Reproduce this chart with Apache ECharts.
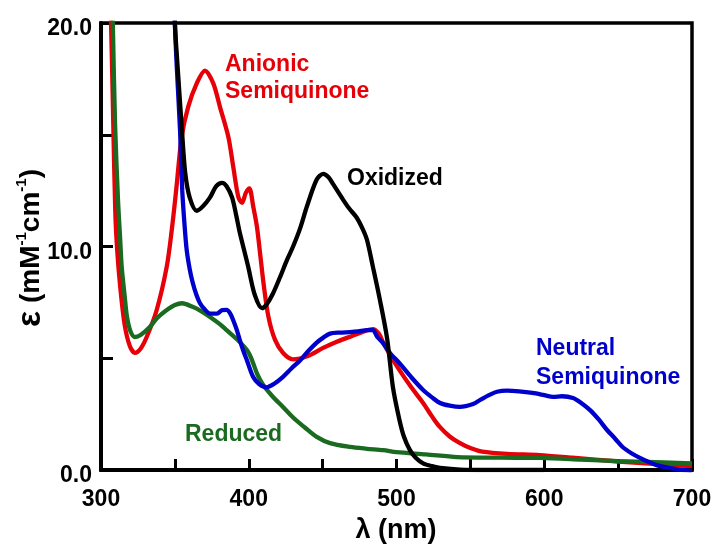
<!DOCTYPE html>
<html>
<head>
<meta charset="utf-8">
<script src="https://cdn.jsdelivr.net/npm/echarts@6/dist/echarts.min.js"></script>
<style>html,body{margin:0;padding:0;background:#fff}#c{width:715px;height:549px}</style>
</head>
<body>
<div id="c"></div>
<script>
// ---- Data ----
const xTickLabels = [300, 400, 500, 600, 700];
const yTickLabels = ['0.0', '10.0', '20.0'];

const anionicX = [303,306.8,308.3,309.7,311,313,316,319.5,323,327,331,337.7,344.5,348,351,354.6,359,364.8,370.4,376,380.5,386.2,389.5,393,395.5,398,400.4,403,405.5,408,410,413.3,417.8,423.4,430,440,450,460,470,478,484,488,491,496,502,510,518,524,529,536,543,550,558,575,597,619,650,687,700];
const anionicY = [28,20,15.5,11.5,9.8,8.2,6.5,5.55,5.24,5.45,5.96,7.16,9.1,10.8,12.6,14.9,16.25,17.3,17.87,17.3,16.25,14.9,13.57,12.2,11.95,12.4,12.6,11.8,10.9,9.5,8.35,6.86,5.82,5.22,4.95,5.1,5.45,5.75,6.0,6.2,6.3,6.1,5.7,5.1,4.47,3.7,3.0,2.4,1.95,1.5,1.2,0.98,0.82,0.72,0.67,0.55,0.38,0.22,0.18];

const reducedX = [306,308,309.5,311.5,313,314,316,317.6,320,323,327,333,338,344.5,350,354.8,362,368,373.8,380,385,392,398.8,401,403,406,409.8,416,423,430,438,446,455,468.5,480,491,500,520,541,570,597,625,650,675,700];
const reducedY = [26,20,15.5,12.1,10.3,9.1,7.8,6.85,6.2,5.95,6.05,6.4,6.8,7.16,7.38,7.46,7.3,7.1,6.85,6.55,6.26,5.85,5.37,5.1,4.78,4.25,3.8,3.3,2.83,2.35,1.9,1.48,1.2,1.03,0.95,0.89,0.8,0.7,0.58,0.55,0.54,0.47,0.4,0.35,0.29];

const neutralX = [348,350,351.4,353.5,355,356.5,358,360,362,364.5,367,370,373.8,378.5,382,385,387.5,389.5,392,394,396.5,398.8,403,407,412,417,423,429,434.7,440,446,450,455,461.8,468.5,474,480,484,487,490.9,496,502,510,518,524,529.5,536,543,551.8,557,563,568,574.8,583,592,600,606,612,619.5,625,631,637,642.5,648,653,659,664.8,670,676,685,694,700];
const neutralY = [26,20,17.9,15.2,12.5,11.0,9.84,9.0,8.4,7.85,7.46,7.2,7.0,7.0,7.15,7.16,7.0,6.7,6.25,5.8,5.3,4.9,4.16,3.85,3.7,3.85,4.16,4.55,4.9,5.3,5.7,5.9,6.1,6.15,6.17,6.2,6.26,6.26,5.95,5.68,5.2,4.78,4.15,3.58,3.25,3.0,2.88,2.82,2.95,3.15,3.36,3.5,3.55,3.52,3.45,3.35,3.27,3.3,3.22,3.0,2.68,2.25,1.79,1.4,1.03,0.75,0.54,0.38,0.22,0.08,0.0,-0.05];

const oxidizedX = [348,350,352,354.8,357,360,364.8,369,373.8,378,381.9,385,388.7,391.5,394,397,399.6,404,409,412,416.4,421,425.9,430,434.7,439.4,446,450.4,454,457,463.8,468,473,477,480,484,488.8,493.6,497.6,502,505,509,513,518,524,529.5,543,560,600];
const oxidizedY = [24,20,17.9,15.2,13.3,12.2,11.6,11.8,12.2,12.7,12.85,12.7,12.2,11.4,10.6,9.8,9.1,7.85,7.24,7.4,7.9,8.6,9.4,10.0,10.8,11.8,13.0,13.25,13.1,12.8,12.1,11.7,11.3,10.8,10.3,9.1,7.6,5.9,3.7,2.24,1.5,0.9,0.55,0.3,0.17,0.1,0.02,0,0];

const seriesNames = ['Anionic Semiquinone', 'Reduced', 'Neutral Semiquinone', 'Oxidized'];
const seriesColors = ['#e60008', '#1a6a20', '#0000cc', '#000000'];

// ---- Chart ----
const FONT = '"Liberation Sans", Arial, Helvetica, sans-serif';
const pairs = (xs, ys) => xs.map((x, i) => [x, ys[i]]);
const allData = [pairs(anionicX, anionicY), pairs(reducedX, reducedY), pairs(neutralX, neutralY), pairs(oxidizedX, oxidizedY)];

const chart = echarts.init(document.getElementById('c'), null, {renderer: 'canvas'});
const txt = (text, x, y, color, size) => ({
  type: 'text', x: x, y: y, z: 100,
  style: {text: text, fill: color, font: 'bold ' + size + 'px ' + FONT, align: 'left', verticalAlign: 'middle'}
});

chart.setOption({
  animation: false,
  backgroundColor: '#fff',
  grid: {left: 101, right: 23, top: 23, bottom: 79, show: true, borderColor: '#000', borderWidth: 3.5, backgroundColor: 'transparent'},
  xAxis: {
    type: 'value', min: 300, max: 700, interval: 50,
    axisLine: {show: true, onZero: false, lineStyle: {color: '#000', width: 4}},
    axisTick: {show: true, inside: true, length: 11, lineStyle: {color: '#000', width: 3}},
    axisLabel: {
      margin: 18, color: '#000', fontFamily: FONT, fontWeight: 'bold', fontSize: 23,
      formatter: v => (xTickLabels.indexOf(v) >= 0 ? String(v) : '')
    },
    splitLine: {show: false}
  },
  yAxis: {
    type: 'value', min: 0, max: 20, interval: 5,
    axisLine: {show: true, lineStyle: {color: '#000', width: 4}},
    axisTick: {show: true, inside: true, length: 12, lineStyle: {color: '#000', width: 3}},
    axisLabel: {
      margin: 9, color: '#000', fontFamily: FONT, fontWeight: 'bold', fontSize: 23,
      formatter: v => { const s = v.toFixed(1); return yTickLabels.indexOf(s) >= 0 ? '{t|' + s + '}' : ''; },
      rich: {t: {fontFamily: FONT, fontWeight: 'bold', fontSize: 23, color: '#000', padding: [12, 0, 0, 0]}}
    },
    splitLine: {show: false}
  },
  series: allData.map((d, i) => ({
    name: seriesNames[i], type: 'line', data: d, showSymbol: false, smooth: 0.3,
    clip: true, lineStyle: {color: seriesColors[i], width: 4.3}, itemStyle: {color: seriesColors[i]}
  })),
  graphic: [
    txt('Anionic', 225, 65, seriesColors[0], 23),
    txt('Semiquinone', 225, 92, seriesColors[0], 23),
    txt('Oxidized', 347, 179, seriesColors[3], 23),
    txt('Neutral', 536, 349, seriesColors[2], 23),
    txt('Semiquinone', 536, 378, seriesColors[2], 23),
    txt('Reduced', 185, 435, seriesColors[1], 23),
    {type: 'text', x: 396, y: 531, z: 100,
     style: {text: 'λ (nm)', fill: '#000', font: 'bold 27px ' + FONT, align: 'center', verticalAlign: 'middle'}},
    {type: 'text', x: 31, y: 248, rotation: Math.PI / 2, z: 100,
     style: {text: '{e|ε} (mM{s|-1}cm{s|-1})', fill: '#000', font: 'bold 28px ' + FONT, align: 'center', verticalAlign: 'middle',
       rich: {e: {fontSize: 34, fontWeight: 'bold', fontFamily: FONT}, s: {fontSize: 15, fontWeight: 'bold', fontFamily: FONT, verticalAlign: 'top'}}}}
  ]
});
</script>
</body>
</html>
